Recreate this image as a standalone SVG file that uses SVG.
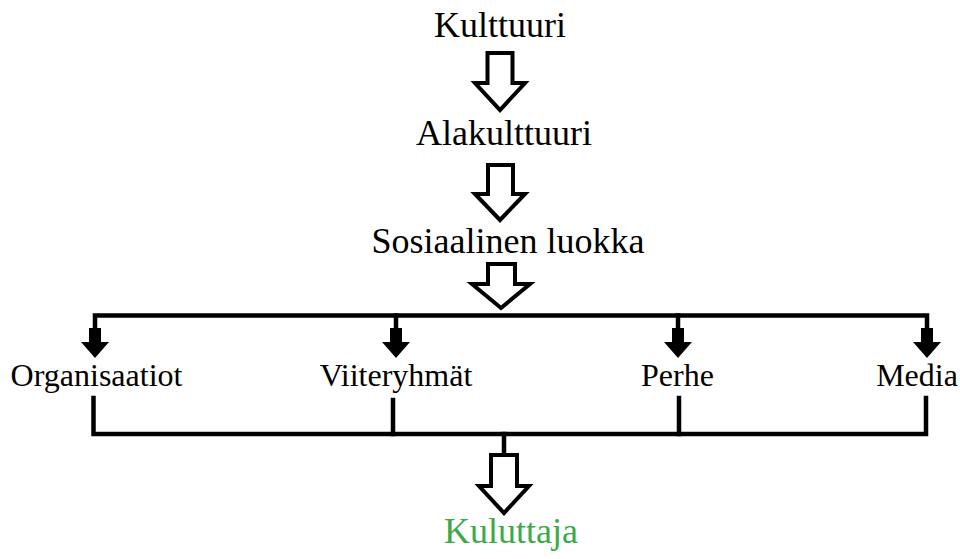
<svg xmlns="http://www.w3.org/2000/svg" width="960" height="559" viewBox="0 0 960 559">
<style>
text{font-family:"Liberation Serif","Times New Roman",serif;fill:#000;text-anchor:middle}
.big{font-size:36px}
.mid{font-size:32px}
.hollow{fill:#fff;stroke:#000;stroke-width:4;stroke-linejoin:miter}
.line{fill:none;stroke:#000;stroke-width:4.5;stroke-linecap:square}
.solid{fill:#000;stroke:none}
</style>
<defs>
<path id="smallArrow" class="solid" d="M-6,13 H6 V27 H14 L0,43 L-14,27 H-6 Z"/>
</defs>
<rect width="960" height="559" fill="#fff"/>
<g id="connectors">
<path class="hollow" d="M487.5,53 H512.5 V83 H525 L500,110 L475,83 H487.5 Z"/>
<path class="hollow" d="M488,165 H513 V194 H525 L500,220 L475,194 H488 Z"/>
<path class="hollow" d="M488,264 H515 V284 H530 L501,308 L472,284 H488 Z"/>
<path class="line" d="M95,330 V315.5 H927 V330"/>
<path class="line" d="M396,315.5 V330"/>
<path class="line" d="M678,315.5 V330"/>
<use href="#smallArrow" x="95" y="315"/>
<use href="#smallArrow" x="396" y="315"/>
<use href="#smallArrow" x="678" y="315"/>
<use href="#smallArrow" x="927" y="315"/>
<path class="line" d="M93.5,398 V434 H926 V398"/>
<path class="line" d="M393,400 V434"/>
<path class="line" d="M679,398 V434"/>
<path class="line" d="M504,434 V455"/>
<path class="hollow" d="M491,455 H517 V486 H529 L504,513 L479,486 H491 Z"/>
</g>
<g id="kulttuuri"><text class="big" x="500" y="37">Kulttuuri</text></g>
<g id="alakulttuuri"><text class="big" x="504" y="145">Alakulttuuri</text></g>
<g id="sosiaalinen-luokka"><text class="big" x="508" y="253">Sosiaalinen luokka</text></g>
<g id="organisaatiot"><text class="mid" x="96.5" y="386">Organisaatiot</text></g>
<g id="viiteryhmat"><text class="mid" x="396" y="386">Viiteryhmät</text></g>
<g id="perhe"><text class="mid" x="677.5" y="386">Perhe</text></g>
<g id="media"><text class="mid" x="917" y="386">Media</text></g>
<g id="kuluttaja"><text class="big" x="511" y="543" style="fill:#3daa48">Kuluttaja</text></g>
</svg>
